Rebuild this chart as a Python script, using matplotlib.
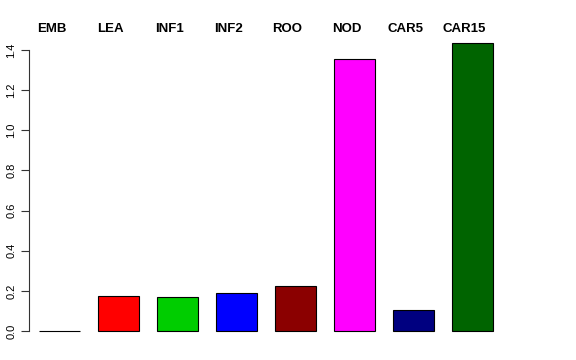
import matplotlib
matplotlib.use("Agg")
import matplotlib.pyplot as plt

tissues = ["EMB", "LEA", "INF1", "INF2", "ROO", "NOD", "CAR5", "CAR15"]
values = [0.002, 0.174, 0.169, 0.189, 0.224, 1.355, 0.106, 1.435]
colors = ["#000000", "#FF0000", "#00CD00", "#0000FF", "#8B0000", "#FF00FF", "#000080", "#006400"]
yticks = [0.0, 0.2, 0.4, 0.6, 0.8, 1.0, 1.2, 1.4]

W, H = 576, 360
fig = plt.figure(figsize=(W / 100, H / 100), dpi=100)

# axes box in pixels, data limits chosen so bars land where R put them
left_px, right_px, top_px, bot_px = 29, 560, 40, 340
ax = fig.add_axes([left_px / W, 1 - bot_px / H, (right_px - left_px) / W, (bot_px - top_px) / H])

step = 59.0
c0 = 59.5
ax.set_xlim((left_px - c0) / step, (right_px - c0) / step)
scale = 200.7
ax.set_ylim(-(bot_px - 331) / scale, (331 - top_px) / scale)

x = list(range(len(tissues)))
ax.bar(x, values, width=41 / step, color=colors, edgecolor="black", linewidth=0.8)

# labels sit ~8 px left of the bar centres, at y ~ 29 px
label_y = 1 + (top_px - 29) / (bot_px - top_px)
for i, name in enumerate(tissues):
    ax.text(i - 8 / step, label_y, name, transform=ax.get_xaxis_transform(),
            ha="center", va="center", fontsize=9.5, fontweight="bold",
            fontfamily="Liberation Sans")

for s in ["top", "right", "bottom"]:
    ax.spines[s].set_visible(False)
ax.spines["left"].set_bounds(0, 1.4)
ax.spines["left"].set_color("#333333")
ax.set_xticks([])
ax.set_yticks(yticks)
ax.set_yticklabels([f"{v:.1f}" for v in yticks], rotation=90, va="center",
                   fontsize=8, fontfamily="Liberation Sans")
ax.tick_params(axis="y", length=6, pad=3, color="#333333")

fig.savefig("out.png", dpi=100)
